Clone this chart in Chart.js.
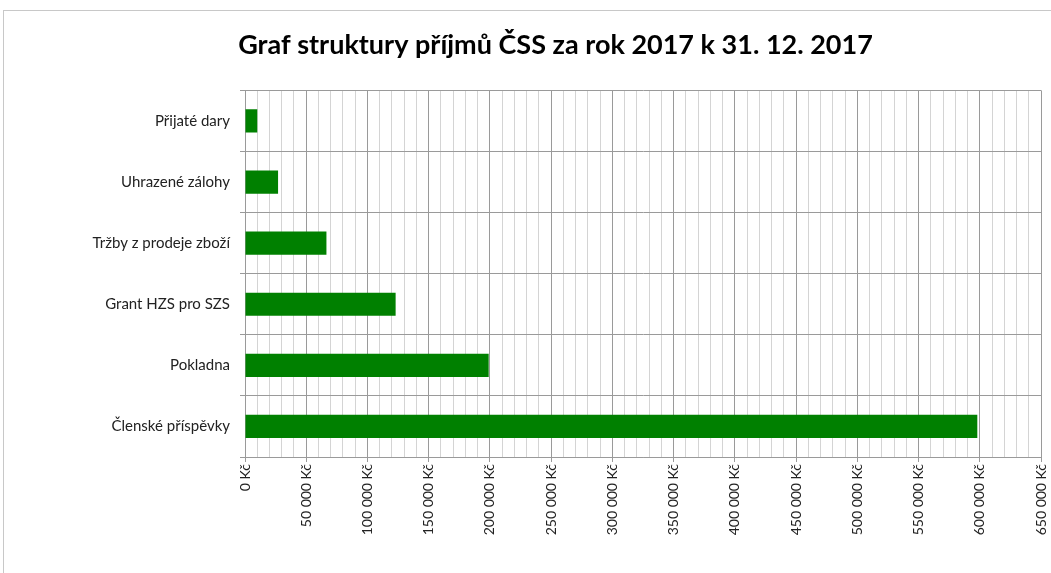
<!DOCTYPE html>
<html>
<head>
<meta charset="utf-8">
<script src="https://cdn.jsdelivr.net/npm/chart.js@4"></script>
<style>
    html, body { margin: 0; padding: 0; background: #fff; }
    #frame { position: absolute; left: 3px; top: 10px; width: 1200px; height: 700px; border: 1px solid #c8c8c8; }
    #wrap { position: absolute; left: 0; top: 0; width: 1051px; height: 573px; }
</style>
</head>
<body>
<div id="frame"></div>
<div id="wrap"><canvas id="chart"></canvas></div>
<script>
// categories top to bottom
const categories = ['Přijaté dary', 'Uhrazené zálohy', 'Tržby z prodeje zboží', 'Grant HZS pro SZS', 'Pokladna', 'Členské příspěvky'];
const values = [10000, 27000, 66500, 123000, 199000, 598000];
const axisMax = 650000;
const majorStep = 50000;
const minorStep = 10000;

function formatKc(v) {
    return v.toString().replace(/\B(?=(\d{3})+(?!\d))/g, ' ') + ' Kč';
}

const ctx = document.getElementById('chart');
new Chart(ctx, {
    type: 'bar',
    data: {
        labels: categories,
        datasets: [{
            data: values,
            backgroundColor: '#008000',
            borderWidth: 0,
            barPercentage: 0.38,
            categoryPercentage: 1
        }]
    },
    options: {
        indexAxis: 'y',
        responsive: true,
        maintainAspectRatio: false,
        animation: false,
        layout: { padding: { left: 70, right: 10, top: 29, bottom: 0 } },
        plugins: {
            legend: { display: false },
            tooltip: { enabled: false },
            title: {
                display: true,
                text: 'Graf struktury příjmů ČSS za rok 2017 k 31. 12. 2017',
                color: '#000',
                font: { family: 'Lato', size: 27, weight: 'bold' },
                padding: { top: 0, bottom: 29 }
            }
        },
        scales: {
            x: {
                min: 0,
                max: axisMax,
                afterFit: s => { s.height = 116; s.paddingLeft = 0; s.paddingRight = 0; },
                ticks: {
                    stepSize: minorStep,
                    autoSkip: false,
                    maxRotation: 90,
                    minRotation: 90,
                    color: '#222',
                    font: { family: 'Lato', size: 14 },
                    padding: 2,
                    callback: v => (v % majorStep === 0 ? formatKc(v) : '')
                },
                grid: {
                    color: c => (c.tick && c.tick.value % majorStep === 0 ? '#9a9a9a' : '#d4d4d4'),
                    tickColor: c => (c.tick && c.tick.value % majorStep === 0 ? '#9a9a9a' : 'rgba(0,0,0,0)'),
                    tickLength: 5,
                    lineWidth: 1
                },
                border: { color: '#9a9a9a' }
            },
            y: {
                afterFit: s => { s.width = 175; },
                ticks: {
                    color: '#222',
                    font: { family: 'Lato', size: 15 },
                    padding: 10
                },
                grid: {
                    offset: true,
                    color: '#9a9a9a',
                    tickLength: 5
                },
                border: { color: '#9a9a9a' }
            }
        }
    }
});
</script>
</body>
</html>
